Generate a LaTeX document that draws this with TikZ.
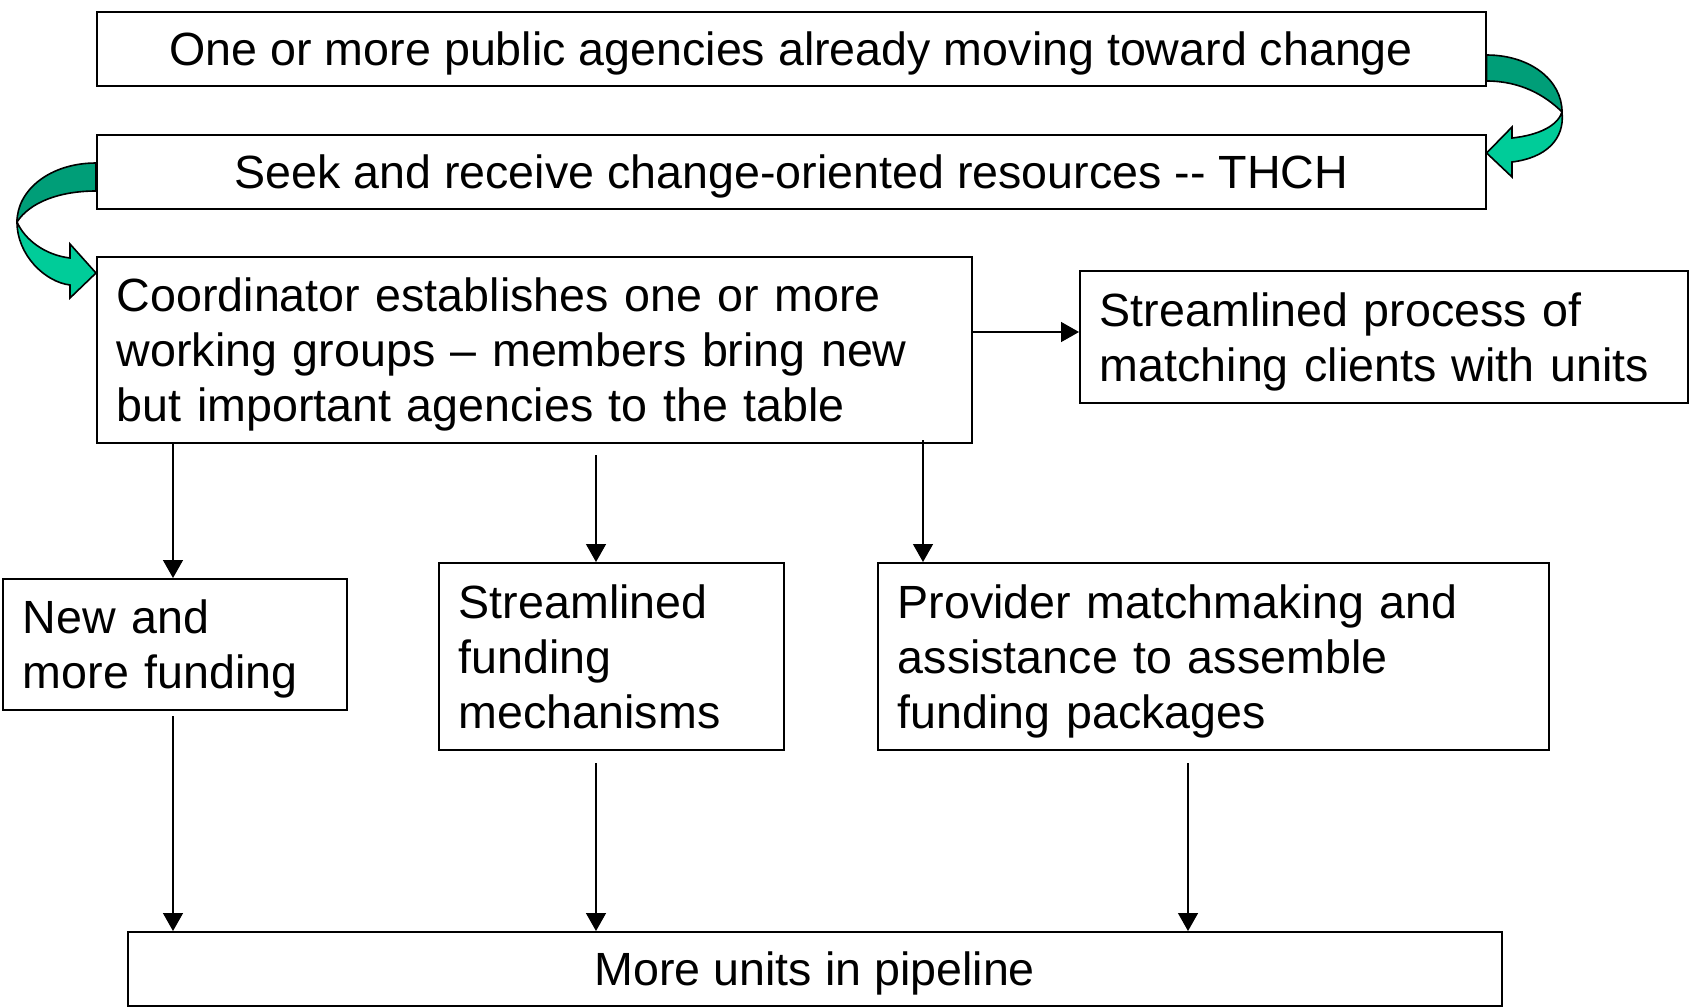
\documentclass[tikz,border=0pt]{standalone}
\usepackage{fontspec}
\setmainfont{Liberation Sans}
\usepackage{tikz}
\usetikzlibrary{arrows.meta,positioning}
\definecolor{bandDark}{RGB}{0,158,120}
\definecolor{bandLight}{RGB}{0,204,153}

\begin{document}
\begin{tikzpicture}[
  x=0.5pt, y=-0.5pt,
  font=\fontsize{23.3}{27.5}\selectfont,
  >={Triangle[length=9pt,width=10pt]},
  box/.style={draw=black, line width=0.8pt, anchor=north west, inner sep=0pt,
              text depth=0pt, align=center},
  lbox/.style={draw=black, line width=0.8pt, anchor=north west,
               inner xsep=10pt, inner ysep=0pt, text depth=#1, align=left},
  flow/.style={->, line width=0.7pt},
  band/.style={draw=black, line width=0.8pt}
]
\useasboundingbox (0,0) rectangle (1689,1007);

\node[box, minimum width=694.5pt, minimum height=37pt] (agency) at (96,11)
  {One or more public agencies already moving toward change};
\node[box, minimum width=694.5pt, minimum height=37pt] (seek) at (96,134)
  {Seek and receive change-oriented resources -{}- THCH};
\node[lbox=55pt, text width=417.5pt, minimum height=93pt] (coord) at (96,256)
  {Coordinator establishes one or more\\working groups \textendash{} members bring new\\but important agencies to the table};
\node[lbox=27.5pt, text width=284pt, minimum height=66pt] (process) at (1079,270)
  {Streamlined process of\\matching clients with units};
\node[lbox=27.5pt, text width=152pt, minimum height=65.5pt] (fund) at (2,578)
  {New and\\more funding};
\node[lbox=55pt, text width=152.5pt, minimum height=93.5pt] (mech) at (438,562)
  {Streamlined\\funding\\mechanisms};
\node[lbox=55pt, text width=315.5pt, minimum height=93.5pt] (match) at (877,562)
  {Provider matchmaking and\\assistance to assemble\\funding packages};
\node[box, minimum width=687pt, minimum height=37pt] (pipe) at (127,931)
  {More units in pipeline};

% twisted green arrows between the top boxes
\draw[band, fill=bandDark] (agency.east |- 0,55) .. controls (1530,55) and (1562,80) .. (1562,112)
  .. controls (1545,95) and (1520,81) .. (agency.east |- 0,81) -- cycle;
\draw[band, fill=bandLight] (1562,112) .. controls (1565,140) and (1545,158) .. (1512,162)
  -- (1512,177) -- (seek.east |- 0,153) -- (1512,127) -- (1512,138)
  .. controls (1540,135) and (1558,125) .. (1562,112) -- cycle;

\draw[band, fill=bandDark] (seek.west |- 0,163) .. controls (50,163) and (17,190) .. (17,222)
  .. controls (30,202) and (60,191) .. (seek.west |- 0,191) -- cycle;
\draw[band, fill=bandLight] (17,222) .. controls (17,255) and (45,282) .. (70,285)
  -- (70,298) -- (coord.west |- 0,273) -- (70,244) -- (70,258)
  .. controls (45,255) and (25,240) .. (17,222) -- cycle;

% connectors
\coordinate (a1) at (173,442);
\coordinate (a2) at (596,455);
\coordinate (a3) at (923,440);
\coordinate (b1) at (173,716);
\coordinate (b2) at (596,763);
\coordinate (b3) at (1188,763);
\draw[flow] (coord.east |- 0,332) -- (process.west |- 0,332);
\draw[flow] (a1) -- (a1 |- fund.north);
\draw[flow] (a2) -- (a2 |- mech.north);
\draw[flow] (a3) -- (a3 |- match.north);
\draw[flow] (b1) -- (b1 |- pipe.north);
\draw[flow] (b2) -- (b2 |- pipe.north);
\draw[flow] (b3) -- (b3 |- pipe.north);
\end{tikzpicture}
\end{document}
